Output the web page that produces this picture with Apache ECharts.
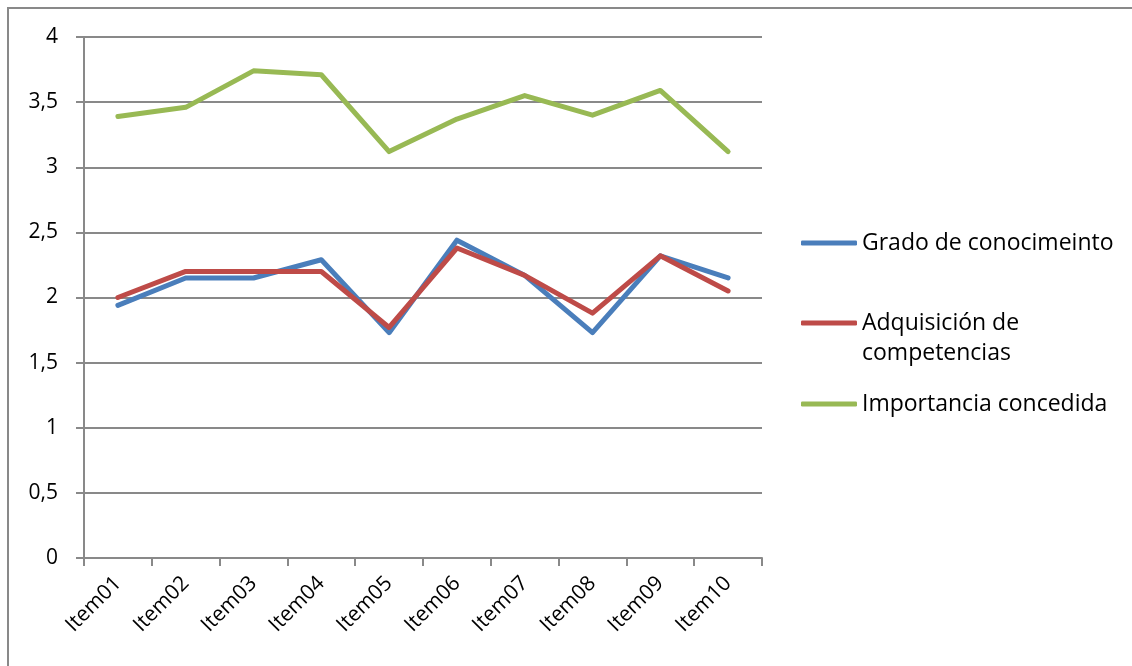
<!DOCTYPE html>
<html>
<head>
<meta charset="utf-8">
<script src="https://cdn.jsdelivr.net/npm/echarts@6/dist/echarts.min.js"></script>
<style>
  html, body { margin: 0; padding: 0; background: #fff; }
  #chart { width: 1132px; height: 666px; }
</style>
</head>
<body>
<div id="chart"></div>
<script>
var items = ['Item01', 'Item02', 'Item03', 'Item04', 'Item05', 'Item06', 'Item07', 'Item08', 'Item09', 'Item10'];
var gradoConocimiento = [1.94, 2.15, 2.15, 2.29, 1.73, 2.44, 2.17, 1.73, 2.32, 2.15];
var adquisicionCompetencias = [2.0, 2.2, 2.2, 2.2, 1.77, 2.38, 2.17, 1.88, 2.32, 2.05];
var importanciaConcedida = [3.39, 3.46, 3.74, 3.71, 3.12, 3.37, 3.55, 3.40, 3.59, 3.12];
var yTicks = [0, 0.5, 1, 1.5, 2, 2.5, 3, 3.5, 4];

var seriesNames = ['Grado de conocimeinto', 'Adquisición de competencias', 'Importancia concedida'];
var colors = ['#4a7ebb', '#be4b48', '#98b954'];
var font = 'Open Sans';
var gray = '#898989';

var chart = echarts.init(document.getElementById('chart'));

function lineSeries(name, data, color) {
    return {
        name: name,
        type: 'line',
        data: data,
        symbol: 'none',
        color: color,
        lineStyle: { color: color, width: 5, cap: 'round', join: 'round' }
    };
}

// one legend per entry so they can sit where the reference has them
function legendAt(name, top) {
    return {
        orient: 'vertical',
        left: 801,
        top: top,
        padding: 0,
        itemWidth: 56,
        itemHeight: 5,
        icon: 'roundRect',
        selectedMode: false,
        data: [{ name: name }],
        formatter: function(n) {
            // empty first line keeps "Adquisición de" level with the icon
            return n === seriesNames[1] ? '\nAdquisición de\ncompetencias' : n;
        },
        textStyle: {
            fontFamily: font,
            fontSize: 23,
            color: '#000',
            lineHeight: 30
        }
    };
}

var option = {
    animation: false,
    graphic: [{
        type: 'rect',
        shape: { x: 8, y: 8, width: 1300, height: 1000 },
        style: { fill: 'none', stroke: gray, lineWidth: 2 },
        silent: true
    }],
    grid: {
        left: 84,
        right: 370,
        top: 37,
        bottom: 108,
        containLabel: false,
        outerBoundsMode: 'none'
    },
    legend: [
        legendAt(seriesNames[0], 228),
        legendAt(seriesNames[1], 278),
        legendAt(seriesNames[2], 389)
    ],
    xAxis: {
        type: 'category',
        data: items,
        boundaryGap: true,
        axisLine: { lineStyle: { color: gray, width: 2 } },
        axisTick: { show: true, length: 8, lineStyle: { color: gray, width: 2 } },
        axisLabel: {
            rotate: 45,
            margin: 22,
            interval: 0,
            fontFamily: font,
            fontSize: 21,
            color: '#000'
        },
        splitLine: { show: false }
    },
    yAxis: {
        type: 'value',
        min: yTicks[0],
        max: yTicks[yTicks.length - 1],
        interval: 0.5,
        axisLine: { show: true, lineStyle: { color: gray, width: 2 } },
        axisTick: { show: true, length: 8, lineStyle: { color: gray, width: 2 } },
        axisLabel: {
            margin: 26,
            fontFamily: font,
            fontSize: 21,
            color: '#000',
            formatter: function(v) {
                return String(v).replace('.', ',');
            }
        },
        splitLine: { show: true, lineStyle: { color: gray, width: 2 } }
    },
    series: [
        lineSeries(seriesNames[0], gradoConocimiento, colors[0]),
        lineSeries(seriesNames[1], adquisicionCompetencias, colors[1]),
        lineSeries(seriesNames[2], importanciaConcedida, colors[2])
    ]
};

chart.setOption(option);
</script>
</body>
</html>
